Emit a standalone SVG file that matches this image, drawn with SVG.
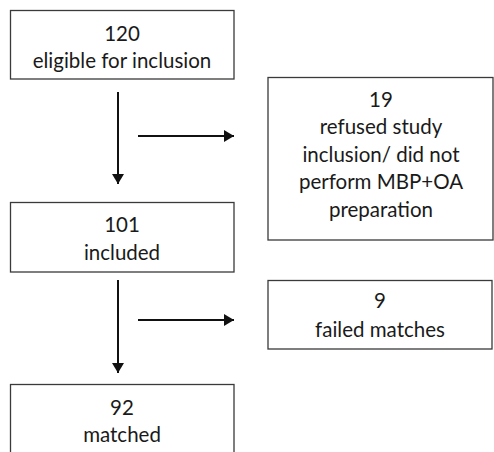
<svg xmlns="http://www.w3.org/2000/svg" width="494" height="452" viewBox="0 0 494 452">
<defs>
<marker id="ah" markerWidth="10" markerHeight="12" refX="10" refY="6" orient="auto" markerUnits="userSpaceOnUse">
<path d="M0,0 L10,6 L0,12 Z" fill="#111"/>
</marker>
<style>
.box{fill:#fff;stroke:#3a3a3a;stroke-width:1.3}
.t{font-family:Lato,"Open Sans",sans-serif;font-size:20.5px;fill:#1a1a1a;text-anchor:middle}
.c{stroke:#111;stroke-width:2;fill:none;marker-end:url(#ah)}
</style>
</defs>
<rect width="494" height="452" fill="#fff"/>
<g id="n120">
<rect class="box" x="10.5" y="10.5" width="223.5" height="68.5"/>
<text class="t" x="122" y="41">120</text>
<text class="t" x="122" y="68">eligible for inclusion</text>
</g>
<g id="n19">
<rect class="box" x="268" y="77.5" width="225" height="162.5"/>
<text class="t" x="381" y="107">19</text>
<text class="t" x="381" y="134">refused study</text>
<text class="t" x="381" y="162">inclusion/ did not</text>
<text class="t" x="381" y="189">perform MBP+OA</text>
<text class="t" x="381" y="217">preparation</text>
</g>
<g id="n101">
<rect class="box" x="10.5" y="202.5" width="223.5" height="69.5"/>
<text class="t" x="122" y="232">101</text>
<text class="t" x="122" y="260">included</text>
</g>
<g id="n9">
<rect class="box" x="268" y="280.5" width="224" height="68.5"/>
<text class="t" x="380" y="308">9</text>
<text class="t" x="380" y="337">failed matches</text>
</g>
<g id="n92">
<rect class="box" x="10.5" y="384.5" width="223.5" height="80"/>
<text class="t" x="122" y="415">92</text>
<text class="t" x="122" y="442">matched</text>
</g>
<g id="connectors">
<line class="c" x1="118" y1="92" x2="118" y2="184"/>
<line class="c" x1="138" y1="136" x2="234" y2="136"/>
<line class="c" x1="118" y1="280" x2="118" y2="373"/>
<line class="c" x1="138" y1="320" x2="234" y2="320"/>
</g>
</svg>
